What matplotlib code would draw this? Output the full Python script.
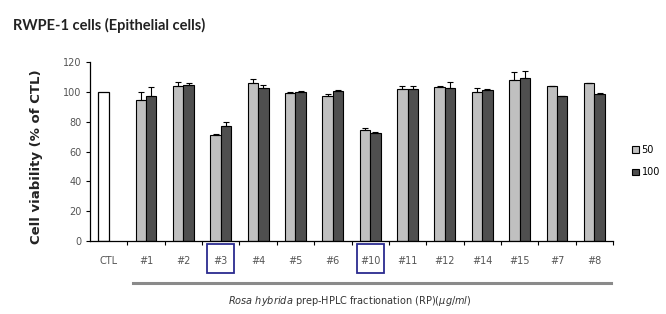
import numpy as np
import matplotlib
matplotlib.use("Agg")
import matplotlib.pyplot as plt
from matplotlib.patches import Rectangle
from matplotlib.lines import Line2D

categories = ["CTL", "#1", "#2", "#3", "#4", "#5", "#6", "#10", "#11", "#12", "#14", "#15", "#7", "#8"]
ctl_value = 100
vals_50 = [94.8, 104.0, 71.0, 105.6, 99.0, 96.9, 74.7, 101.6, 103.1, 99.8, 107.6, 103.6, 105.6]
err_50 = [5.0, 2.5, 1.0, 3.0, 1.0, 1.5, 1.0, 2.5, 0.5, 3.0, 6.0, 0.5, 0.5]
vals_100 = [97.5, 104.7, 77.0, 102.9, 99.8, 100.5, 72.4, 102.0, 102.7, 101.3, 109.2, 97.0, 98.6]
err_100 = [6.0, 1.0, 3.0, 2.0, 1.0, 0.5, 0.5, 2.0, 4.0, 0.5, 5.0, 0.3, 0.3]
boxed = ["#3", "#10"]
yticks = [0, 20, 40, 60, 80, 100, 120]
series_labels = ["50", "100"]

W, H = 666, 314
fig = plt.figure(figsize=(W / 100, H / 100), dpi=100)
ax = fig.add_axes([90 / W, 1 - 241 / H, (613 - 90) / W, (241 - 62) / H])

n = len(categories)
centers = np.arange(n) + 0.5
bw = 0.28
off = 0.14
c50 = "#c0c0c0"
c100 = "#4f4f4f"
ekw = dict(ecolor="black", elinewidth=0.8, capsize=2, capthick=0.8)

# CTL bar
ax.bar(centers[0] - off, ctl_value, bw, color="white", edgecolor="black", linewidth=0.9, zorder=2)
# sample bars
x_s = centers[1:]
ax.bar(x_s - off, vals_50, bw, color=c50, edgecolor="black", linewidth=0.8, zorder=2,
       yerr=[np.zeros(len(err_50)), err_50], error_kw=ekw, label=series_labels[0])
ax.bar(x_s + off, vals_100, bw, color=c100, edgecolor="black", linewidth=0.8, zorder=2,
       yerr=[np.zeros(len(err_100)), err_100], error_kw=ekw, label=series_labels[1])

ax.set_xlim(0, n)
ax.set_ylim(0, 120)
ax.set_yticks(yticks)
ax.tick_params(axis="y", direction="out", length=3, width=0.8, labelsize=7, labelcolor="#555555", pad=3)

ax.set_xticks(np.arange(1, n + 1))
ax.set_xticklabels([])
ax.tick_params(axis="x", which="major", direction="out", length=3, width=0.8)
ax.set_xticks(centers, minor=True)
ax.set_xticklabels(categories, minor=True)
ax.tick_params(axis="x", which="minor", length=0, labelsize=7, labelcolor="#555555", pad=11)

for s in ["top", "right"]:
    ax.spines[s].set_visible(False)
for s in ["left", "bottom"]:
    ax.spines[s].set_linewidth(0.9)

# boxes around highlighted labels
trans = matplotlib.transforms.blended_transform_factory(ax.transData, fig.transFigure)
for lab in boxed:
    i = categories.index(lab)
    ax.add_artist(Rectangle((centers[i] - 0.36, 1 - 273 / H), 0.72, 29 / H, transform=trans,
                            fill=False, edgecolor="#2b2b8f", linewidth=1.3, clip_on=False))

ax.set_ylabel("Cell viability (% of CTL)", fontsize=9.5, fontweight="bold", color="#222222")
ax.yaxis.set_label_coords(43 / W, 0.5, transform=fig.transFigure)

fig.text(13 / W, 1 - 25 / H, "RWPE-1 cells (Epithelial cells)", fontsize=10.5, fontweight="bold",
         family="Lato", ha="left", va="center", color="#222222")

fig.add_artist(Line2D([133 / W, 611 / W], [1 - 283 / H, 1 - 283 / H], transform=fig.transFigure,
                      color="#8a8a8a", linewidth=2.2))
fig.text(350 / W, 1 - 301 / H, r"$\it{Rosa\ hybrida}$ prep-HPLC fractionation (RP)$\it{(\mu g/ml)}$",
         fontsize=7, ha="center", va="center", color="#333333")

leg = fig.legend(loc="center left", bbox_to_anchor=(625 / W, 1 - 161 / H), frameon=False,
                 fontsize=7, handlelength=0.7, handleheight=0.7, handletextpad=0.3,
                 labelspacing=1.3, borderpad=0.2)

fig.savefig("out.png", dpi=100)
